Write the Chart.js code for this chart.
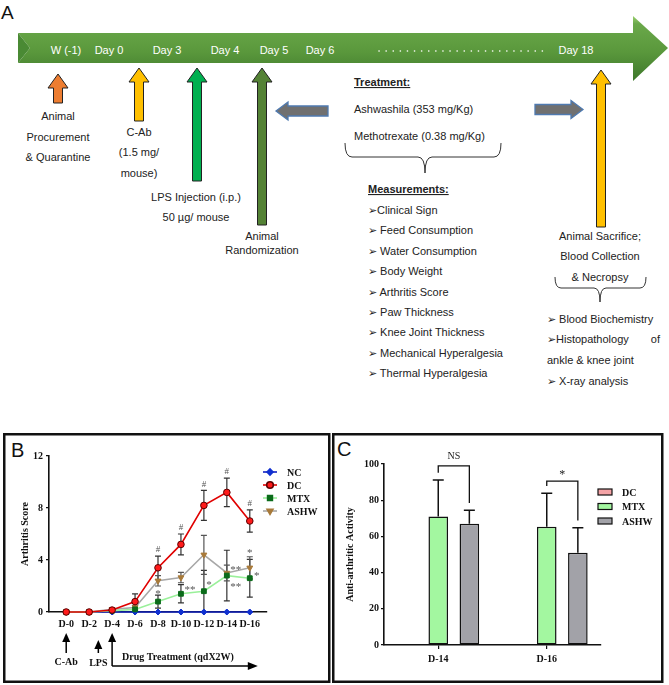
<!DOCTYPE html>
<html>
<head>
<meta charset="utf-8">
<script src="https://cdn.jsdelivr.net/npm/chart.js@4.4.0/dist/chart.umd.min.js"></script>
<style>
  body { margin: 0; background: #fff; width: 669px; height: 685px; overflow: hidden; position: relative; }
  #diag { position: absolute; left: 0; top: 0; }
  canvas { position: absolute; }
  #cB { left: 6px; top: 436px; }
  #cC { left: 335px; top: 436px; }
  .t { font-family: "Liberation Sans", Arial, sans-serif; font-size: 11px; fill: #222; }
  .w { font-family: "Liberation Sans", Arial, sans-serif; font-size: 11px; fill: #fff; }
  .m { text-anchor: middle; }
</style>
</head>
<body>
<svg id="diag" width="669" height="685">
  <defs>
    <linearGradient id="gb" x1="0" y1="0" x2="0" y2="1">
      <stop offset="0" stop-color="#9ad06e"/>
      <stop offset="0.12" stop-color="#6aa84a"/>
      <stop offset="0.55" stop-color="#5a983c"/>
      <stop offset="1" stop-color="#3e782b"/>
    </linearGradient>
  </defs>
  <polygon points="18,33 633,33 633,16 668,48 633,81 633,63 18,63 30,48" fill="url(#gb)"/>
  <polygon points="18,33 30,48 18,63" fill="#4a8a34"/>
  <g id="arrows"></g>
  <text class="w m" x="66" y="54">W (-1)</text>
  <text class="w m" x="109" y="54">Day 0</text>
  <text class="w m" x="167" y="54">Day 3</text>
  <text class="w m" x="225" y="54">Day 4</text>
  <text class="w m" x="274" y="54">Day 5</text>
  <text class="w m" x="320" y="54">Day 6</text>
  <line x1="379" y1="51" x2="545" y2="51" stroke="#fff" stroke-width="1.6" stroke-dasharray="0.1 7" stroke-linecap="round"/>
  <text class="w m" x="576" y="54">Day 18</text>

  <text style="font-family:'Liberation Sans',Arial,sans-serif;font-size:19px;fill:#111" x="1" y="19">A</text>

  <text class="t m" x="58" y="120">Animal</text>
  <text class="t m" x="58" y="141">Procurement</text>
  <text class="t m" x="58" y="161">&amp; Quarantine</text>
  <text class="t m" x="139" y="136">C-Ab</text>
  <text class="t m" x="139" y="156">(1.5 mg/</text>
  <text class="t m" x="139" y="177">mouse)</text>
  <text class="t m" x="196" y="201">LPS Injection (i.p.)</text>
  <text class="t m" x="196" y="221">50 µg/ mouse</text>
  <text class="t m" x="262" y="240">Animal</text>
  <text class="t m" x="262" y="254">Randomization</text>

  <text class="t" x="354" y="86" font-weight="bold" text-decoration="underline">Treatment:</text>
  <text class="t" x="354" y="113">Ashwashila (353 mg/Kg)</text>
  <text class="t" x="354" y="140">Methotrexate (0.38 mg/Kg)</text>
  <path d="M345,143 Q345,157 352,157 L418,157 Q425,157 425,173 Q425,157 432,157 L494,157 Q501,157 501,143" fill="none" stroke="#333" stroke-width="1"/>
  <text class="t" x="368" y="193" font-weight="bold" text-decoration="underline">Measurements:</text>
  <text class="t" x="368" y="214">➢Clinical Sign</text>
  <text class="t" x="368" y="234">➢ Feed Consumption</text>
  <text class="t" x="368" y="255">➢ Water Consumption</text>
  <text class="t" x="368" y="275">➢ Body Weight</text>
  <text class="t" x="368" y="296">➢ Arthritis Score</text>
  <text class="t" x="368" y="316">➢ Paw Thickness</text>
  <text class="t" x="368" y="336">➢ Knee Joint Thickness</text>
  <text class="t" x="368" y="357">➢ Mechanical Hyperalgesia</text>
  <text class="t" x="368" y="377">➢ Thermal Hyperalgesia</text>

  <text class="t m" x="600" y="240">Animal Sacrifice;</text>
  <text class="t m" x="600" y="260">Blood Collection</text>
  <text class="t m" x="600" y="281">&amp; Necropsy</text>
  <path d="M555,277 Q555,288 561,288 L594,288 Q600,288 600,302 Q600,288 606,288 L640,288 Q646,288 646,277" fill="none" stroke="#333" stroke-width="1"/>
  <text class="t" x="547" y="323">➢ Blood Biochemistry</text>
  <text class="t" x="547" y="343">➢Histopathology</text>
  <text class="t" x="660" y="343" text-anchor="end">of</text>
  <text class="t" x="547" y="364">ankle &amp; knee joint</text>
  <text class="t" x="547" y="385">➢ X-ray analysis</text>

  <rect x="4.25" y="434.25" width="325" height="247.5" fill="none" stroke="#111" stroke-width="2.5"/>
  <rect x="333.25" y="434.25" width="329" height="247.5" fill="none" stroke="#111" stroke-width="2.5"/>
  <text style="font-family:'Liberation Sans',Arial,sans-serif;font-size:20px;fill:#111" x="11" y="457">B</text>
  <text style="font-family:'Liberation Sans',Arial,sans-serif;font-size:20px;fill:#111" x="337" y="456">C</text>
</svg>
<canvas id="cB" width="320" height="244"></canvas>
<canvas id="cC" width="325" height="244"></canvas>
<script>
// ---- panel A arrows (diagram shapes) ----
function upArrow(cx, tip, bot, fill) {
  const hw = 10, sw = 4.5, hh = 14;
  const p = [[cx, tip], [cx + hw, tip + hh], [cx + sw, tip + hh], [cx + sw, bot], [cx - sw, bot], [cx - sw, tip + hh], [cx - hw, tip + hh]];
  return `<polygon points="${p.map(q => q.join(',')).join(' ')}" fill="${fill}" stroke="#222" stroke-width="1"/>`;
}
function sideArrow(tail, tip, cy) {
  const dir = tip > tail ? 1 : -1, hl = 12, sh = 5, hh = 9;
  const b = tip - dir * hl;
  const p = [[tip, cy], [b, cy - hh], [b, cy - sh], [tail, cy - sh], [tail, cy + sh], [b, cy + sh], [b, cy + hh]];
  return `<polygon points="${p.map(q => q.join(',')).join(' ')}" fill="#707070" stroke="#4f7ab0" stroke-width="1.3"/>`;
}
document.getElementById('arrows').innerHTML =
  upArrow(58, 74, 103, '#ed7d31') +
  upArrow(139, 68, 121, '#ffc000') +
  upArrow(197, 68, 181, '#00b050') +
  upArrow(262, 68, 225, '#548235') +
  upArrow(601, 70, 227, '#ffc000') +
  sideArrow(328, 276, 111) +
  sideArrow(535, 583, 109.5);

// ---- panel B data ----
const days = [0, 2, 4, 6, 8, 10, 12, 14, 16];
const scoreTicks = [0, 4, 8, 12];
const ncScore = [0, 0, 0, 0, 0, 0, 0, 0, 0];
const ncSd = [0, 0, 0, 0, 0, 0, 0, 0, 0];
const dcScore = [0, 0, 0.15, 0.8, 3.4, 5.2, 8.2, 9.2, 7.0];
const dcSd = [0, 0, 0.1, 0.6, 0.9, 0.8, 1.15, 1.1, 0.85];
const mtxScore = [0, 0, 0.1, 0.2, 0.8, 1.4, 1.6, 2.8, 2.6];
const mtxSd = [0, 0, 0.05, 0.1, 0.5, 0.7, 1.6, 1.95, 1.45];
const ashwScore = [0, 0, 0.2, 0.35, 2.4, 2.65, 4.4, 3.0, 3.4];
const ashwSd = [0, 0, 0.1, 0.15, 0.4, 0.4, 1.5, 0.6, 0.85];

// ---- panel C data ----
const weeks = ['D-14', 'D-16'];
const actTicks = [0, 20, 40, 60, 80, 100];
const dcAct = [null, null];
const mtxAct = [71, 65.4];
const mtxActSd = [20.2, 18.4];
const ashwAct = [67, 51];
const ashwActSd = [7.4, 13.8];
const bracketTop = [99, 90.5];
const bracketText = ['NS', '*'];

const SERIF = '"Liberation Serif", "Times New Roman", serif';
const tickFont = { family: SERIF, weight: 'bold', size: 10 };

const pts = arr => days.map((d, i) => ({ x: d, y: arr[i] }));

const errorBarsB = {
  id: 'errorBarsB',
  beforeDatasetsDraw(chart) {
    const { ctx, scales: { x, y } } = chart;
    ctx.save();
    chart.data.datasets.forEach(ds => {
      ctx.strokeStyle = ds.errColor;
      ctx.lineWidth = 1.2;
      ds.sd.forEach((s, i) => {
        if (!s) return;
        const v = ds.data[i].y;
        const px = x.getPixelForValue(days[i]);
        const top = y.getPixelForValue(v + s), bot = y.getPixelForValue(Math.max(0, v - s));
        ctx.beginPath();
        ctx.moveTo(px, top); ctx.lineTo(px, bot);
        ctx.moveTo(px - 3, top); ctx.lineTo(px + 3, top);
        ctx.moveTo(px - 3, bot); ctx.lineTo(px + 3, bot);
        ctx.stroke();
      });
    });
    ctx.restore();
  }
};

// significance marks next to the points (day, score level, pixel shift)
const starsB = [
  { day: 8, at: 1.55, dx: 0, t: '*' },
  { day: 10, at: 1.8, dx: 9, t: '**' },
  { day: 12, at: 2.2, dx: 5, t: '*' },
  { day: 14, at: 3.35, dx: 9, t: '**' },
  { day: 14, at: 2.1, dx: 9, t: '**' },
  { day: 16, at: 4.65, dx: 0, t: '*' },
  { day: 16, at: 2.95, dx: 7, t: '*' }
];

const notesB = {
  id: 'notesB',
  afterDraw(chart) {
    const { ctx, scales: { x, y }, chartArea } = chart;
    ctx.save();
    ctx.fillStyle = '#555';
    ctx.textAlign = 'center';
    ctx.textBaseline = 'middle';
    ctx.font = '9px ' + SERIF;
    days.forEach((d, i) => {
      if (d < 8) return;
      ctx.fillText('#', x.getPixelForValue(d), y.getPixelForValue(dcScore[i] + dcSd[i]) - 6);
    });
    ctx.font = '11px ' + SERIF;
    starsB.forEach(s => ctx.fillText(s.t, x.getPixelForValue(s.day) + s.dx, y.getPixelForValue(s.at) + 2));

    // legend
    const leg = [
      { t: 'NC', c: '#1020c0', f: '#1030d0', st: 'rectRot', r: 3, rot: 0 },
      { t: 'DC', c: '#e00000', f: '#ff1a1a', st: 'circle', r: 3.3, rot: 0, b: '#5a0000' },
      { t: 'MTX', c: '#9af09a', f: '#0b6b1a', st: 'rect', r: 3.4, rot: 0 },
      { t: 'ASHW', c: '#a8a8a8', f: '#a87a3a', st: 'triangle', r: 3.4, rot: 180 }
    ];
    ctx.textAlign = 'left';
    ctx.font = 'bold 10px ' + SERIF;
    leg.forEach((l, k) => {
      const ly = 36 + k * 13;
      ctx.strokeStyle = l.c; ctx.lineWidth = 1.6;
      ctx.beginPath(); ctx.moveTo(257, ly); ctx.lineTo(271, ly); ctx.stroke();
      ctx.fillStyle = l.f; ctx.strokeStyle = l.b || l.f;
      Chart.helpers.drawPoint(ctx, { pointStyle: l.st, radius: l.r, rotation: l.rot, borderWidth: 1 }, 264, ly);
      ctx.fillStyle = '#111';
      ctx.fillText(l.t, 281, ly + 1);
    });

    // protocol arrows under the axis
    const base = chartArea.bottom;
    const up = (px, tip, bot) => {
      ctx.beginPath(); ctx.moveTo(px, tip + 6); ctx.lineTo(px, bot); ctx.stroke();
      ctx.beginPath(); ctx.moveTo(px, tip); ctx.lineTo(px - 4, tip + 9); ctx.lineTo(px + 4, tip + 9); ctx.closePath(); ctx.fill();
    };
    ctx.strokeStyle = '#000'; ctx.fillStyle = '#000'; ctx.lineWidth = 1.5;
    const x0 = x.getPixelForValue(0), xL = x.getPixelForValue(2.8), x4 = x.getPixelForValue(4);
    up(x0, base + 21, base + 41);
    up(xL, base + 28, base + 41);
    up(x4, base + 21, base + 54);
    const xEnd = x.getPixelForValue(16) + 8;
    ctx.beginPath(); ctx.moveTo(x4, base + 54); ctx.lineTo(xEnd - 6, base + 54); ctx.stroke();
    ctx.beginPath(); ctx.moveTo(xEnd, base + 54); ctx.lineTo(xEnd - 10, base + 50); ctx.lineTo(xEnd - 10, base + 58); ctx.closePath(); ctx.fill();
    ctx.fillStyle = '#111';
    ctx.font = 'bold 10px ' + SERIF;
    ctx.textAlign = 'center';
    ctx.fillText('C-Ab', x0, base + 50);
    ctx.fillText('LPS', xL, base + 51);
    ctx.textAlign = 'left';
    ctx.fillText('Drug Treatment (qdX2W)', x4 + 10, base + 45);
    ctx.restore();
  }
};

new Chart(document.getElementById('cB'), {
  type: 'line',
  data: {
    datasets: [
      { label: 'DC', data: pts(dcScore), sd: dcSd, errColor: '#333', borderColor: '#e00000', borderWidth: 1.6,
        pointStyle: 'circle', pointRadius: 3.3, pointBackgroundColor: '#ff1a1a', pointBorderColor: '#5a0000', pointBorderWidth: 1 },
      { label: 'MTX', data: pts(mtxScore), sd: mtxSd, errColor: '#333', borderColor: '#9af09a', borderWidth: 1.6,
        pointStyle: 'rect', pointRadius: 3.4, pointBackgroundColor: '#0b6b1a', pointBorderColor: '#0b6b1a', pointBorderWidth: 1 },
      { label: 'ASHW', data: pts(ashwScore), sd: ashwSd, errColor: '#555', borderColor: '#a8a8a8', borderWidth: 1.6,
        pointStyle: 'triangle', rotation: 180, pointRadius: 3.4, pointBackgroundColor: '#a87a3a', pointBorderColor: '#a87a3a', pointBorderWidth: 1 },
      { label: 'NC', data: pts(ncScore), sd: ncSd, errColor: '#333', borderColor: '#1020c0', borderWidth: 1.6,
        pointStyle: 'rectRot', pointRadius: 3, pointBackgroundColor: '#1030d0', pointBorderColor: '#1030d0', pointBorderWidth: 1 }
    ].map(d => Object.assign(d, { clip: false, tension: 0, fill: false }))
  },
  options: {
    responsive: false, animation: false, events: [],
    layout: { padding: { left: 0, top: 20, right: 59, bottom: 0 }, autoPadding: false },
    plugins: { legend: { display: false }, tooltip: { enabled: false } },
    scales: {
      x: {
        type: 'linear', min: -1.5, max: 17.5,
        afterBuildTicks: s => { s.ticks = days.map(v => ({ value: v })); },
        afterFit: s => { s.height = 68; },
        ticks: { callback: v => 'D-' + v, font: tickFont, color: '#111', padding: 3, maxRotation: 0, autoSkip: false },
        grid: { drawOnChartArea: false, tickLength: 3, color: '#111', lineWidth: 1.2 },
        border: { color: '#111', width: 1.6 }
      },
      y: {
        min: 0, max: 12,
        afterBuildTicks: s => { s.ticks = scoreTicks.map(v => ({ value: v })); },
        afterFit: s => { s.width = 43; },
        ticks: { font: tickFont, color: '#111', padding: 3 },
        grid: { drawOnChartArea: false, tickLength: 3, color: '#111', lineWidth: 1.2 },
        border: { color: '#111', width: 1.6 },
        title: { display: true, text: 'Arthritis Score', font: tickFont, color: '#111', padding: { top: 13, bottom: 0 } }
      }
    }
  },
  plugins: [errorBarsB, notesB]
});

const notesC = {
  id: 'notesC',
  afterDatasetsDraw(chart) {
    const { ctx, scales: { y } } = chart;
    const mtxMeta = chart.getDatasetMeta(1), ashwMeta = chart.getDatasetMeta(2);
    ctx.save();
    ctx.strokeStyle = '#111';
    ctx.lineWidth = 1.5;
    [[mtxMeta, mtxAct, mtxActSd], [ashwMeta, ashwAct, ashwActSd]].forEach(([meta, vals, sds]) => {
      meta.data.forEach((bar, i) => {
        const top = y.getPixelForValue(vals[i] + sds[i]);
        ctx.beginPath();
        ctx.moveTo(bar.x, bar.y); ctx.lineTo(bar.x, top);
        ctx.moveTo(bar.x - 5.5, top); ctx.lineTo(bar.x + 5.5, top);
        ctx.stroke();
      });
    });
    ctx.lineWidth = 1.3;
    ctx.fillStyle = '#222';
    ctx.textAlign = 'center';
    ctx.textBaseline = 'middle';
    weeks.forEach((w, i) => {
      const xl = mtxMeta.data[i].x, xr = ashwMeta.data[i].x;
      const yt = y.getPixelForValue(bracketTop[i]);
      ctx.beginPath();
      ctx.moveTo(xl, y.getPixelForValue(mtxAct[i] + mtxActSd[i] + 4));
      ctx.lineTo(xl, yt); ctx.lineTo(xr, yt);
      ctx.lineTo(xr, y.getPixelForValue(ashwAct[i] + ashwActSd[i] + 4));
      ctx.stroke();
      ctx.font = (bracketText[i] === 'NS' ? '10px ' : '12px ') + SERIF;
      ctx.fillText(bracketText[i], (xl + xr) / 2, yt - (bracketText[i] === 'NS' ? 9 : 6));
    });
    // legend
    const leg = [['DC', '#f4a3a6'], ['MTX', '#a3f7a0'], ['ASHW', '#a2a2a8']];
    ctx.font = 'bold 10px ' + SERIF;
    ctx.textAlign = 'left';
    leg.forEach(([t, c], k) => {
      const ly = 56 + k * 14.5;
      ctx.fillStyle = c;
      ctx.fillRect(263, ly - 3, 14, 6);
      ctx.lineWidth = 1.2; ctx.strokeStyle = '#111';
      ctx.strokeRect(263, ly - 3, 14, 6);
      ctx.fillStyle = '#111';
      ctx.fillText(t, 287, ly + 1);
    });
    ctx.restore();
  }
};

new Chart(document.getElementById('cC'), {
  type: 'bar',
  data: {
    labels: weeks,
    datasets: [
      { label: 'DC', data: dcAct, backgroundColor: '#f4a3a6' },
      { label: 'MTX', data: mtxAct, backgroundColor: '#a3f7a0' },
      { label: 'ASHW', data: ashwAct, backgroundColor: '#a2a2a8' }
    ].map(d => Object.assign(d, { borderColor: '#111', borderWidth: 1.5, borderSkipped: false, categoryPercentage: 0.86, barPercentage: 0.63 }))
  },
  options: {
    responsive: false, animation: false, events: [],
    layout: { padding: { left: 0, top: 28, right: 59, bottom: 0 }, autoPadding: false },
    plugins: { legend: { display: false }, tooltip: { enabled: false } },
    scales: {
      x: {
        afterFit: s => { s.height = 35; },
        ticks: { font: tickFont, color: '#111', padding: 4 },
        grid: { offset: false, drawOnChartArea: false, tickLength: 4, color: '#111', lineWidth: 1.2 },
        border: { color: '#111', width: 1.6 }
      },
      y: {
        min: 0, max: 100,
        afterBuildTicks: s => { s.ticks = actTicks.map(v => ({ value: v })); },
        afterFit: s => { s.width = 49; },
        ticks: { font: tickFont, color: '#111', padding: 2 },
        grid: { drawOnChartArea: false, tickLength: 3, color: '#111', lineWidth: 1.2 },
        border: { color: '#111', width: 1.6 },
        title: { display: true, text: 'Anti-arthritic Activity', font: tickFont, color: '#111', padding: { top: 9, bottom: 0 } }
      }
    }
  },
  plugins: [notesC]
});
</script>
</body>
</html>
